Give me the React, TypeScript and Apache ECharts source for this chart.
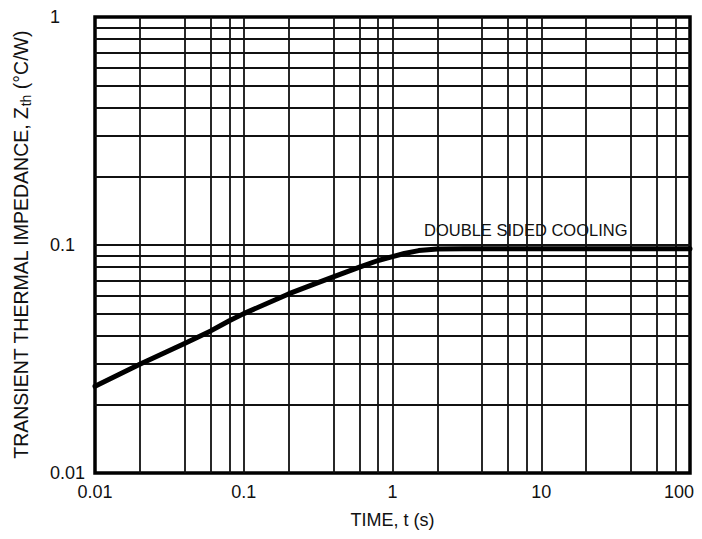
import React, { useEffect, useRef } from "react";
import * as echarts from "echarts";

// ---- data ----
const timeValues = [0.01, 0.02, 0.04, 0.06, 0.08, 0.1, 0.2, 0.3, 0.4, 0.6, 0.8, 1, 1.2, 1.5, 2, 3, 5, 10, 100];
const zthValues = [0.024, 0.030, 0.037, 0.042, 0.0465, 0.050, 0.061, 0.0675, 0.0725, 0.080, 0.0855, 0.089, 0.0918, 0.0945, 0.096, 0.0962, 0.0962, 0.0962, 0.0962];

const xTickValues = [0.01, 0.1, 1, 10, 100];
const xTickLabels = ["0.01", "0.1", "1", "10", "100"];
const yTickValues = [0.01, 0.1, 1];
const yTickLabels = ["0.01", "0.1", "1"];

// grid line positions (log paper)
const xGridValues = [
  0.02, 0.04, 0.06, 0.08, 0.1,
  0.2, 0.4, 0.6, 0.8, 1,
  2, 4, 6, 8, 10,
  20, 40, 60, 80,
];
const yGridValues = [
  0.02, 0.03, 0.04, 0.05, 0.06, 0.07, 0.08, 0.09, 0.1,
  0.2, 0.3, 0.4, 0.5, 0.6, 0.7, 0.8, 0.9,
];

const curveLabel = "DOUBLE SIDED COOLING";
const xTitle = "TIME, t (s)";

const FONT = "'Liberation Sans', Arial, Helvetica, sans-serif";

function pickLabel(v: number, values: number[], labels: string[]) {
  for (let i = 0; i < values.length; i++) {
    if (Math.abs(Math.log10(v) - Math.log10(values[i])) < 1e-6) return labels[i];
  }
  return "";
}

export default function App() {
  const ref = useRef<HTMLDivElement>(null);

  useEffect(() => {
    if (!ref.current) return;
    const chart = echarts.init(ref.current, undefined, { renderer: "svg" });

    const gridLineData = [
      ...xGridValues.map((v) => ({ xAxis: v })),
      ...yGridValues.map((v) => ({ yAxis: v })),
    ];

    chart.setOption({
      animation: false,
      backgroundColor: "#ffffff",
      grid: {
        left: 95,
        right: 12,
        top: 17,
        bottom: 66,
        show: true,
        borderColor: "#000",
        borderWidth: 3.5,
        backgroundColor: "transparent",
      },
      xAxis: {
        type: "log",
        logBase: 10,
        min: 0.01,
        max: 100,
        axisLine: { show: false },
        axisTick: { show: false },
        splitLine: { show: false },
        axisLabel: {
          margin: 10,
          fontSize: 18,
          color: "#111",
          fontFamily: FONT,
          formatter: (v: number) => {
            const s = pickLabel(v, xTickValues, xTickLabels);
            return s === xTickLabels[xTickLabels.length - 1] ? "{last|" + s + "}" : s;
          },
          rich: {
            last: {
              fontSize: 18,
              color: "#111",
              fontFamily: FONT,
              padding: [0, 22, 0, 0],
            },
          },
        },
        name: xTitle,
        nameLocation: "middle",
        nameGap: 38,
        nameTextStyle: { fontSize: 18, color: "#111", fontFamily: FONT },
      },
      yAxis: {
        type: "log",
        logBase: 10,
        min: 0.01,
        max: 1,
        axisLine: { show: false },
        axisTick: { show: false },
        splitLine: { show: false },
        axisLabel: {
          margin: 45,
          align: "left",
          fontSize: 18,
          color: "#111",
          fontFamily: FONT,
          formatter: (v: number) => pickLabel(v, yTickValues, yTickLabels),
        },
        name: "TRANSIENT THERMAL IMPEDANCE, Z{sub|th} (°C/W)",
        nameLocation: "middle",
        nameGap: 62,
        nameTextStyle: {
          fontSize: 19.5,
          color: "#111",
          fontFamily: FONT,
          rich: {
            sub: {
              fontSize: 14,
              color: "#111",
              fontFamily: FONT,
              verticalAlign: "bottom",
              padding: [10, 0, 0, 0],
            },
          },
        },
      },
      graphic: [
        {
          type: "text",
          left: 424,
          top: 221,
          style: {
            text: curveLabel,
            fontSize: 16.5,
            fontFamily: FONT,
            fill: "#111",
          },
        },
      ],
      series: [
        {
          type: "scatter",
          data: [],
          z: 1,
          silent: true,
          markLine: {
            silent: true,
            symbol: ["none", "none"],
            label: { show: false },
            lineStyle: { color: "#111", width: 1.8, type: "solid" },
            data: gridLineData,
            animation: false,
          },
        },
        {
          type: "line",
          z: 5,
          data: timeValues.map((t, i) => [t, zthValues[i]]),
          showSymbol: false,
          smooth: false,
          lineStyle: { color: "#000", width: 5, join: "round", cap: "round" },
          silent: true,
        },
      ],
    });

    return () => chart.dispose();
  }, []);

  return <div ref={ref} style={{ width: 702, height: 539, margin: -8 }} />;
}
